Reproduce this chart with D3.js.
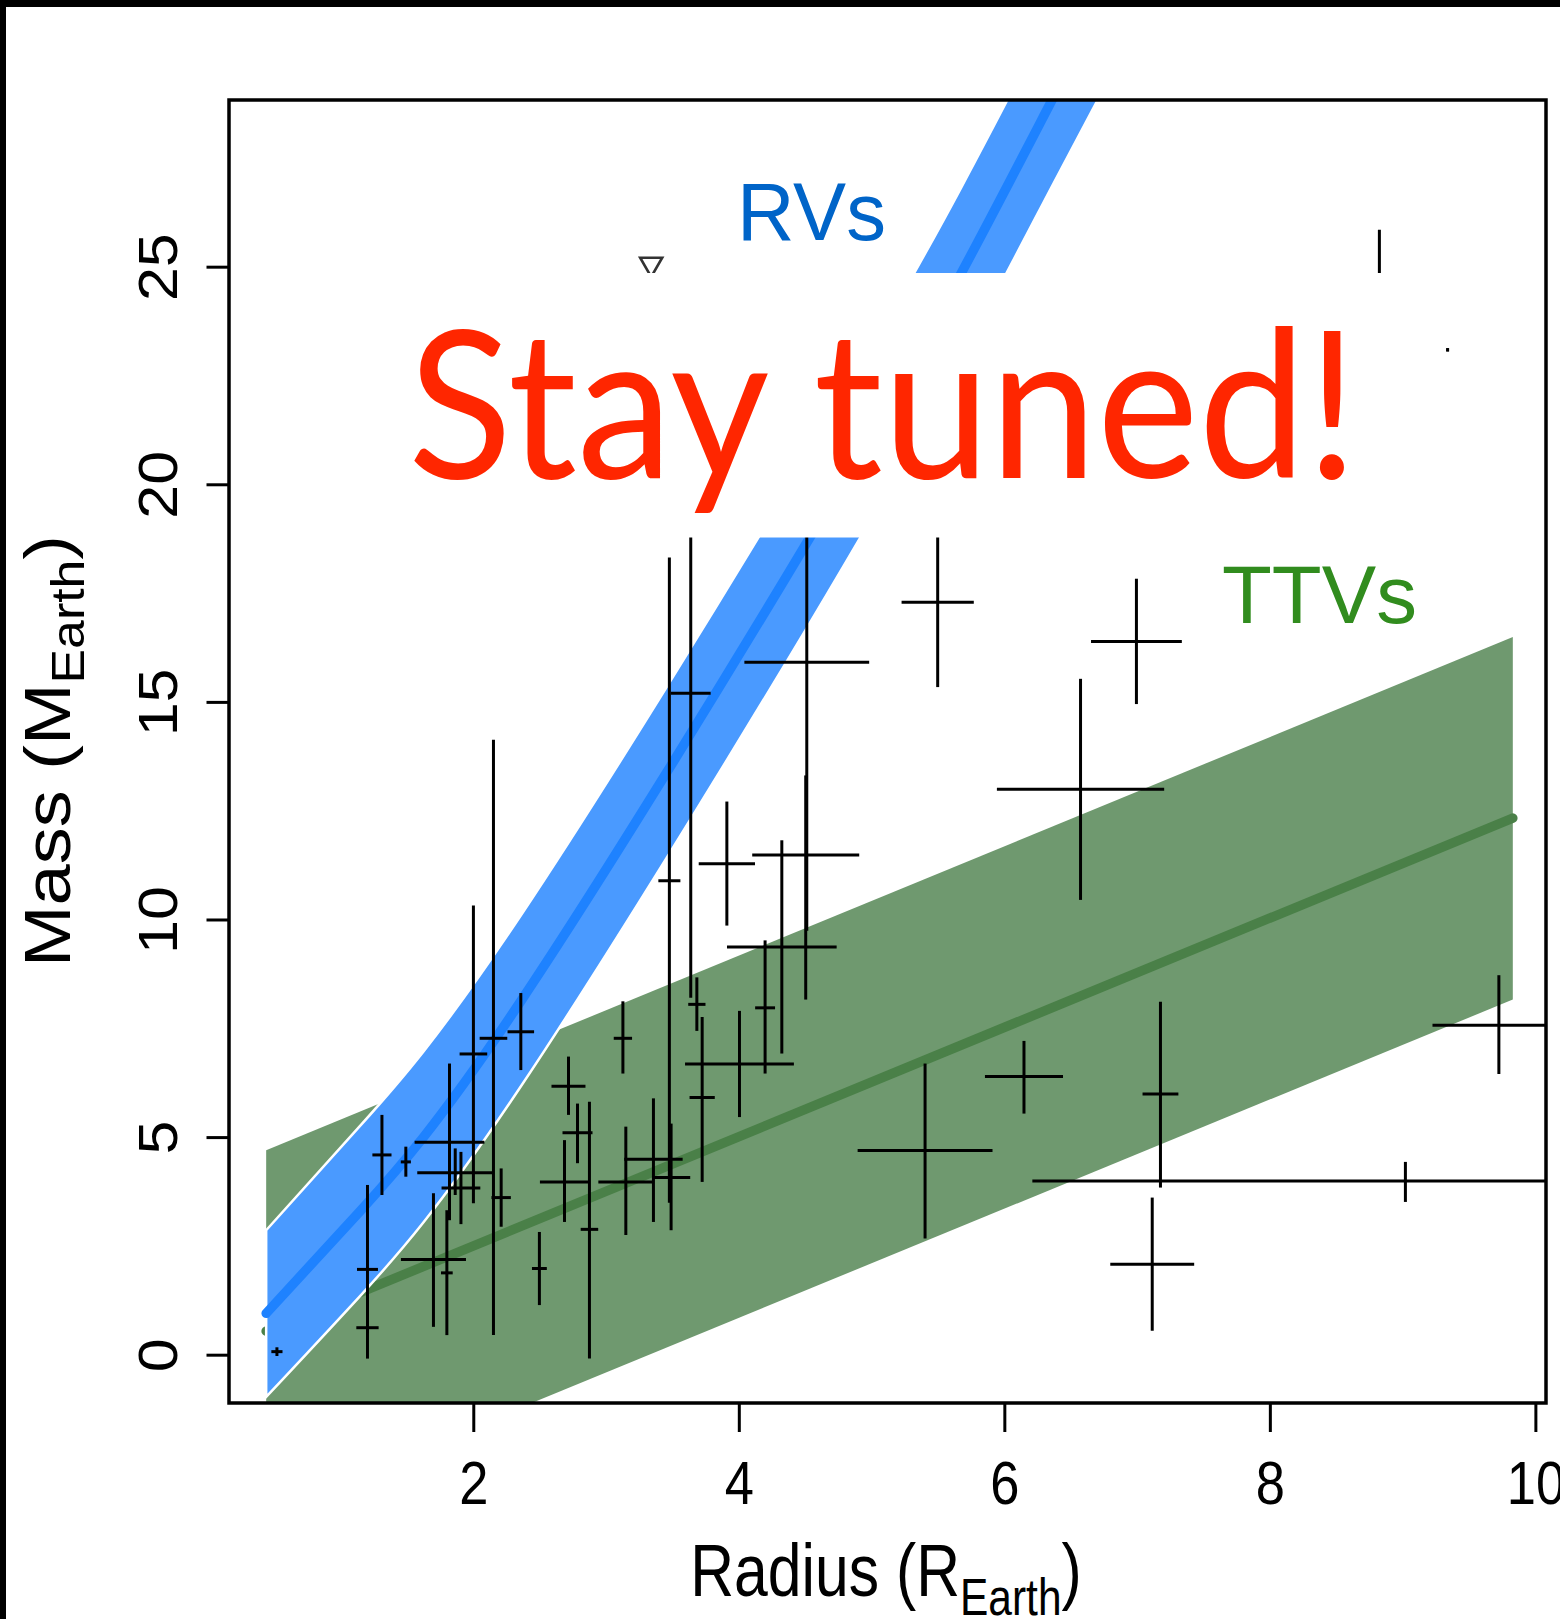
<!DOCTYPE html>
<head>
  <title>Mass vs radius</title>
  <meta charset="utf-8">
  <script src="https://cdnjs.cloudflare.com/ajax/libs/d3/7.8.5/d3.min.js"></script>

  <style>
    body { margin: 0; background: #fff; }
    .axis text { font-family: "Liberation Sans", Arial, sans-serif; fill: #000; }
    .axis line, .axis path { stroke: #000; stroke-width: 3; }
    .bar { stroke: #000; stroke-width: 3; fill: none; }
    .title { font-family: "Liberation Sans", Arial, sans-serif; fill: #000; }
  </style>
</head>
<body>

  <div class="container"></div>

  <script type="text/javascript">
'use strict';
var width = 1560;
var height = 1619;

// RV fit: power-law like curve with its band
var rvX   = [0.44, 1.154, 2.364, 4.532, 5.677, 6.361, 6.75];
var rvMid = [0.95, 3.32, 8.15, 18.76, 24.86, 28.84, 31.1];
var rvLo  = [-0.97, 1.37, 6.19, 16.80, 22.90, 26.86, 29.1];
var rvHi  = [2.86, 5.28, 10.12, 20.72, 26.83, 30.82, 33.1];

// TTV fit: straight line with its band
var ttvX   = [0.44, 9.83];
var ttvMid = [0.54, 12.33];
var ttvLo  = [-3.62, 8.16];
var ttvHi  = [4.70, 16.49];

// planets: [radius, radius error, mass, mass low, mass high]
var planets = [
  [5.498, 0.272, 17.29, 15.34, 20.5],
  [6.995, 0.342, 16.39, 14.95, 17.83],
  [6.574, 0.63, 12.99, 10.45, 15.53],
  [4.512, 0.47, 15.91, 9.74, 21.0],
  [4.504, 0.403, 11.48, 8.16, 13.31],
  [3.477, 0.083, 10.89, 3.49, 18.32],
  [3.638, 0.15, 15.20, 8.20, 21.0],
  [3.910, 0.212, 11.28, 9.86, 12.71],
  [4.324, 0.413, 9.37, 6.92, 11.82],
  [4.198, 0.075, 7.97, 6.46, 9.52],
  [3.684, 0.065, 8.05, 7.44, 8.67],
  [4.005, 0.41, 6.68, 5.46, 7.90],
  [3.724, 0.095, 5.91, 3.97, 7.76],
  [1.203, 0.079, 1.96, 0.49, 3.90],
  [1.203, 0.084, 0.62, -0.09, 1.41],
  [1.312, 0.072, 4.59, 3.67, 5.51],
  [1.492, 0.038, 4.43, 4.09, 4.78],
  [1.821, 0.263, 4.88, 3.09, 6.69],
  [1.700, 0.245, 2.19, 0.64, 3.71],
  [1.801, 0.044, 1.88, 0.45, 3.32],
  [2.001, 0.104, 6.91, 3.48, 10.32],
  [1.864, 0.286, 4.18, 3.67, 4.74],
  [1.907, 0.146, 3.83, 3.00, 4.66],
  [2.152, 0.104, 7.27, 0.45, 14.13],
  [2.358, 0.100, 7.42, 6.54, 8.31],
  [2.210, 0.073, 3.61, 2.94, 4.28],
  [2.498, 0.056, 1.98, 1.14, 2.82],
  [2.717, 0.128, 6.17, 5.51, 6.85],
  [2.785, 0.113, 5.10, 4.40, 5.77],
  [2.875, 0.066, 2.88, -0.09, 5.81],
  [2.687, 0.185, 3.97, 3.05, 4.93],
  [3.127, 0.069, 7.27, 6.46, 8.12],
  [3.149, 0.207, 3.97, 2.75, 5.24],
  [3.357, 0.220, 4.49, 3.05, 5.89],
  [3.490, 0.144, 4.07, 2.86, 5.31],
  [5.403, 0.508, 4.69, 2.67, 6.69],
  [6.148, 0.294, 6.39, 5.54, 7.21],
  [7.176, 0.135, 5.99, 3.84, 8.11],
  [9.021, 2.81, 3.99, 3.51, 4.43],
  [7.114, 0.316, 2.08, 0.55, 3.61],
  [9.725, 0.50, 7.57, 6.45, 8.72],
  [8.825, 0.20, 22.5, 19.5, 25.85],
  [9.339, 0.01, 23.09, 23.05, 23.13],
  [0.521, 0.042, 0.07, -0.03, 0.17]
];

// upper limits: [radius, mass]
var limits = [[3.34, 25.06]];

var xTicks = [2, 4, 6, 8, 10];
var yTicks = [0, 5, 10, 15, 20, 25];

var svg = d3.select('.container')
  .append('svg')
  .attr('width', width)
  .attr('height', height)
  .style('display', 'block');

svg.append('rect').attr('width', width).attr('height', height).attr('fill', '#fff');
// slide frame
svg.append('rect').attr('x', 0).attr('y', 0).attr('width', width).attr('height', 7).attr('fill', '#000');
svg.append('rect').attr('x', 0).attr('y', 0).attr('width', 6).attr('height', height).attr('fill', '#000');

var pLeft = 229, pRight = 1546, pTop = 100, pBottom = 1403;

var x = d3.scaleLinear().domain([0.16, 10.08]).range([pLeft, pRight]);
var y = d3.scaleLinear().domain([-1.11, 28.83]).range([pBottom, pTop]);

svg.append('clipPath').attr('id', 'plot')
  .append('rect')
  .attr('x', pLeft).attr('y', pTop)
  .attr('width', pRight - pLeft).attr('height', pBottom - pTop);

var plot = svg.append('g').attr('clip-path', 'url(#plot)');

function band(xs, lo, hi) {
  return xs.map(function (v, i) { return { x: v, lo: lo[i], hi: hi[i] }; });
}
function line(xs, mid) {
  return xs.map(function (v, i) { return { x: v, y: mid[i] }; });
}

var area = d3.area()
  .x(function (d) { return x(d.x); })
  .y0(function (d) { return y(d.lo); })
  .y1(function (d) { return y(d.hi); });
var path = d3.line()
  .x(function (d) { return x(d.x); })
  .y(function (d) { return y(d.y); });

// TTV band
plot.append('path')
  .attr('d', area(band(ttvX, ttvLo, ttvHi)))
  .attr('fill', '#6f996f');
plot.append('path')
  .attr('d', path(line(ttvX, ttvMid)))
  .attr('fill', 'none')
  .attr('stroke', '#4a8048')
  .attr('stroke-width', 9.5)
  .attr('stroke-linecap', 'round');

// RV band
plot.append('path')
  .attr('d', area.curve(d3.curveNatural)(band(rvX, rvLo, rvHi)))
  .attr('fill', '#4a9aff')
  .attr('stroke', '#fff')
  .attr('stroke-width', 2.5);
plot.append('path')
  .attr('d', path.curve(d3.curveNatural)(line(rvX, rvMid)))
  .attr('fill', 'none')
  .attr('stroke', '#1e82ff')
  .attr('stroke-width', 9.5)
  .attr('stroke-linecap', 'round');

// error bars
var bars = plot.selectAll('g.planet')
  .data(planets)
  .enter().append('g')
  .attr('class', 'planet');

bars.append('line')
  .attr('class', 'bar')
  .attr('x1', function (d) { return x(d[0] - d[1]); })
  .attr('x2', function (d) { return x(d[0] + d[1]); })
  .attr('y1', function (d) { return y(d[2]); })
  .attr('y2', function (d) { return y(d[2]); });

bars.append('line')
  .attr('class', 'bar')
  .attr('x1', function (d) { return x(d[0]); })
  .attr('x2', function (d) { return x(d[0]); })
  .attr('y1', function (d) { return y(d[3]); })
  .attr('y2', function (d) { return y(d[4]); });

plot.selectAll('path.limit')
  .data(limits)
  .enter().append('path')
  .attr('class', 'limit')
  .attr('d', d3.symbol().type(d3.symbolTriangle).size(210))
  .attr('transform', function (d) {
    return 'translate(' + x(d[0]) + ',' + y(d[1]) + ') rotate(180)';
  })
  .attr('fill', 'none')
  .attr('stroke', '#333')
  .attr('stroke-width', 2.6);

// axes
var xAxis = svg.append('g')
  .attr('class', 'axis')
  .attr('transform', 'translate(0,' + pBottom + ')')
  .call(d3.axisBottom(x).tickValues(xTicks).tickSize(29).tickSizeOuter(0).tickFormat(d3.format('d')));
xAxis.select('.domain').remove();
xAxis.selectAll('text')
  .attr('y', 101)
  .attr('dy', 0)
  .attr('transform', 'scale(0.86,1)')
  .style('font-size', '61px');

var yAxis = svg.append('g')
  .attr('class', 'axis')
  .attr('transform', 'translate(' + pLeft + ',0)')
  .call(d3.axisLeft(y).tickValues(yTicks).tickSize(22.5).tickSizeOuter(0).tickFormat(d3.format('d')));
yAxis.select('.domain').remove();
yAxis.selectAll('text')
  .attr('x', 0)
  .attr('y', 0)
  .attr('dy', 0)
  .attr('text-anchor', 'middle')
  .attr('transform', 'translate(-52,0) scale(0.9,1) rotate(-90)')
  .style('font-size', '61px');

// box
svg.append('rect')
  .attr('x', pLeft).attr('y', pTop)
  .attr('width', pRight - pLeft).attr('height', pBottom - pTop)
  .attr('fill', 'none')
  .attr('stroke', '#000')
  .attr('stroke-width', 3.5);

// axis titles
var F = 74;
var xt = svg.append('text')
  .attr('class', 'title')
  .attr('text-anchor', 'middle')
  .attr('transform', 'translate(886,1596) scale(0.82,1)')
  .style('font-size', F + 'px');
xt.append('tspan').text('Radius (R');
xt.append('tspan').attr('dy', 0.25 * F).style('font-size', (0.7 * F) + 'px').text('Earth');
xt.append('tspan').attr('dy', -0.25 * F).text(')');

var yt = svg.append('text')
  .attr('class', 'title')
  .attr('text-anchor', 'middle')
  .attr('transform', 'translate(70,751) scale(0.88,1) rotate(-90)')
  .style('font-size', F + 'px');
yt.append('tspan').text('Mass (M');
yt.append('tspan').attr('dy', 0.22 * F).style('font-size', (0.7 * F) + 'px').text('Earth');
yt.append('tspan').attr('dy', -0.22 * F).text(')');

// overlay from the slide
svg.append('rect')
  .attr('x', 390).attr('y', 273)
  .attr('width', 1030).attr('height', 264.5)
  .attr('fill', '#fff');

svg.append('text')
  .attr('x', 408).attr('y', 478)
  .attr('textLength', 950)
  .attr('lengthAdjust', 'spacingAndGlyphs')
  .style('font-family', 'Lato, "Open Sans", sans-serif')
  .style('font-size', '205px')
  .style('fill', '#ff2600')
  .text('Stay tuned!');

svg.append('text')
  .attr('x', 737).attr('y', 240)
  .attr('textLength', 149)
  .attr('lengthAdjust', 'spacingAndGlyphs')
  .style('font-family', '"Liberation Sans", Arial, sans-serif')
  .style('font-size', '82px')
  .style('fill', '#0064c8')
  .text('RVs');

svg.append('text')
  .attr('x', 1222).attr('y', 622.5)
  .attr('textLength', 195)
  .attr('lengthAdjust', 'spacingAndGlyphs')
  .style('font-family', '"Liberation Sans", Arial, sans-serif')
  .style('font-size', '82px')
  .style('fill', '#318c1e')
  .text('TTVs');
  </script>
</body>
